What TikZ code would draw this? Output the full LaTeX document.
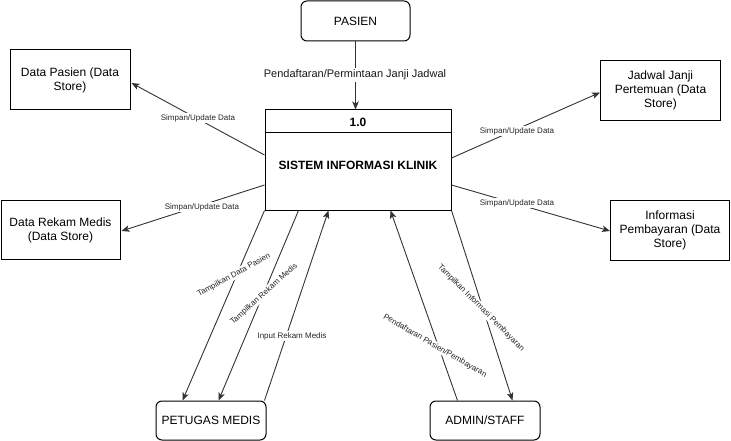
\documentclass[tikz,border=0pt]{standalone}
\usepackage{fontspec}
\setmainfont{Liberation Sans}
\usetikzlibrary{arrows.meta,calc}
\begin{document}
\begin{tikzpicture}[x=1pt,y=-1pt,
  box/.style={draw=black, line width=1pt, fill=white, align=center,
    font=\fontsize{12}{14}\selectfont, inner sep=0pt},
  ext/.style={box, rounded corners=6pt},
  flow/.style={draw=black!80, line width=0.9pt, -{Stealth[length=8pt,width=6.5pt,inset=2pt]}},
  plain/.style={draw=black!80, line width=0.9pt},
  lbl/.style={fill=white, inner sep=1pt, font=\fontsize{8}{9.6}\selectfont, text=black!85},
  bigl/.style={fill=white, inner sep=1.5pt, font=\fontsize{11}{13}\selectfont, text=black!90}]
\useasboundingbox (0,0) rectangle (731,441);
% nodes
\node[ext, minimum width=109pt, minimum height=40pt] (pasien) at (355.5,21) {PASIEN};
\node[box, minimum width=120pt, minimum height=60pt] (dp) at (70,80) {Data Pasien (Data\\Store)};
\node[box, minimum width=120pt, minimum height=60pt] (jd) at (660.5,90.5) {Jadwal Janji\\Pertemuan (Data\\Store)};
\node[box, minimum width=119pt, minimum height=59pt] (rm) at (60.5,230) {Data Rekam Medis\\(Data Store)};
\node[box, minimum width=119pt, minimum height=60pt] (info) at (670,230) {Informasi\\Pembayaran (Data\\Store)};
\node[ext, minimum width=110pt, minimum height=39pt] (pm) at (211,420.5) {PETUGAS MEDIS};
\node[ext, minimum width=110pt, minimum height=39pt] (admin) at (485,420.5) {ADMIN/STAFF};
\node[box, minimum width=186pt, minimum height=100pt] (proc) at (358,160) {};
\draw[line width=1pt] ($(proc.north west)+(0,23)$) coordinate (hl) -- ($(proc.north east)+(0,23)$) coordinate (hr);
\node[font=\bfseries\fontsize{12}{14}\selectfont] (pnum) at (358,122) {1.0};
\node[font=\bfseries\fontsize{12}{14}\selectfont] (pname) at (358,165) {SISTEM INFORMASI KLINIK};
% connectors
\draw[flow] (pasien.south) -- (pasien.south |- proc.north);
\draw[flow] ($(proc.west)+(0,-5)$) -- ($(dp.east)+(1,3)$);
\draw[flow] ($(proc.east)+(0,-2)$) -- ($(jd.west)+(0,2)$);
\draw[flow] ($(proc.west)+(0,25)$) -- ($(rm.east)+(1,1)$);
\draw[flow] ($(proc.east)+(0,25)$) -- ($(info.west)+(0,1)$);
\draw[flow] (proc.south west) -- ($(pm.north west)+(27,0)$);
\draw[flow] ($(proc.south west)+(34,0)$) -- ($(pm.north west)+(63,0)$);
\draw[flow] ($(pm.north east)+(-2,0)$) -- ($(proc.south west)+(64,0)$);
\draw[flow] ($(admin.north west)+(28,0)$) -- ($(proc.south west)+(126,0)$);
\draw[flow] (proc.south east) -- ($(admin.north west)+(83,0)$);
% labels
\node[bigl] (l0) at (355,75) {Pendaftaran/Permintaan Janji Jadwal};
\node[lbl] (l1) at (198,118) {Simpan/Update Data};
\node[lbl] (l2) at (517,131) {Simpan/Update Data};
\node[lbl] (l3) at (202,207) {Simpan/Update Data};
\node[lbl] (l4) at (517,203) {Simpan/Update Data};
\node[lbl, rotate=29] (l5) at (234,275) {Tampilkan Data Pasien};
\node[lbl, rotate=42] (l6) at (264,294) {Tampilkan Rekam Medis};
\node[lbl] (l7) at (292,336) {Input Rekam Medis};
\node[lbl, rotate=-30] (l8) at (435,346) {Pendaftaran Pasien/Pembayaran};
\node[lbl, rotate=-45] (l9) at (481,308) {Tampilkan Informasi Pembayaran};
\end{tikzpicture}
\end{document}
